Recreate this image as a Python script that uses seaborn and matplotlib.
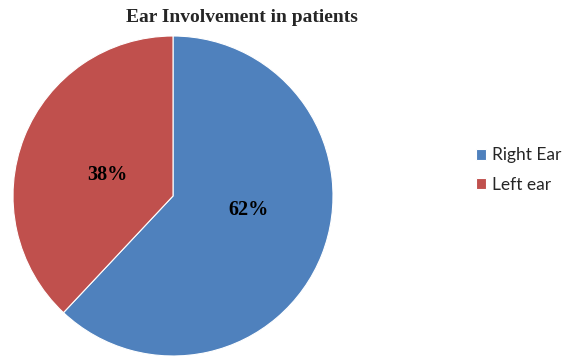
import matplotlib
matplotlib.use("Agg")
import matplotlib.pyplot as plt
import seaborn as sns

labels = ["Right Ear", "Left ear"]
shares = [62, 38]
colors = ["#4F81BD", "#C0504D"]
title = "Ear Involvement in patients"
# where the chart tool put the percentage labels (radius units)
label_pos = [(0.47, -0.09), (-0.41, 0.13)]

sns.set_theme(style="white")
plt.rcParams['font.family'] = ['Liberation Serif', 'DejaVu Serif']

fig = plt.figure(figsize=(5.64, 3.61), dpi=100)
ax = fig.add_axes([13 / 564, 5 / 361, 320 / 564, 320 / 361])

wedges, texts, autotexts = ax.pie(
    shares, colors=colors, startangle=90, counterclock=False,
    autopct='%d%%', pctdistance=0.45,
    wedgeprops=dict(edgecolor='white', linewidth=0.8),
    textprops=dict(fontsize=14.5, fontweight='bold', color='black',
                   family=['Liberation Serif']),
)
for t, pos in zip(autotexts, label_pos):
    t.set_position(pos)
ax.set_xlim(-1, 1)
ax.set_ylim(-1, 1)
ax.set_aspect('equal')

fig.text(242 / 564, 1 - 18 / 361, title, ha='center', va='center',
         fontsize=14, fontweight='bold', family=['Liberation Serif'])

fig.legend(wedges, labels, loc='center left', bbox_to_anchor=(460 / 564, 1 - 170 / 361),
           frameon=False, handlelength=0.6, handleheight=0.6, handletextpad=0.35,
           labelspacing=0.75, prop=dict(family='Lato', size=12.5))

fig.savefig("out.png", dpi=100, facecolor='white')
